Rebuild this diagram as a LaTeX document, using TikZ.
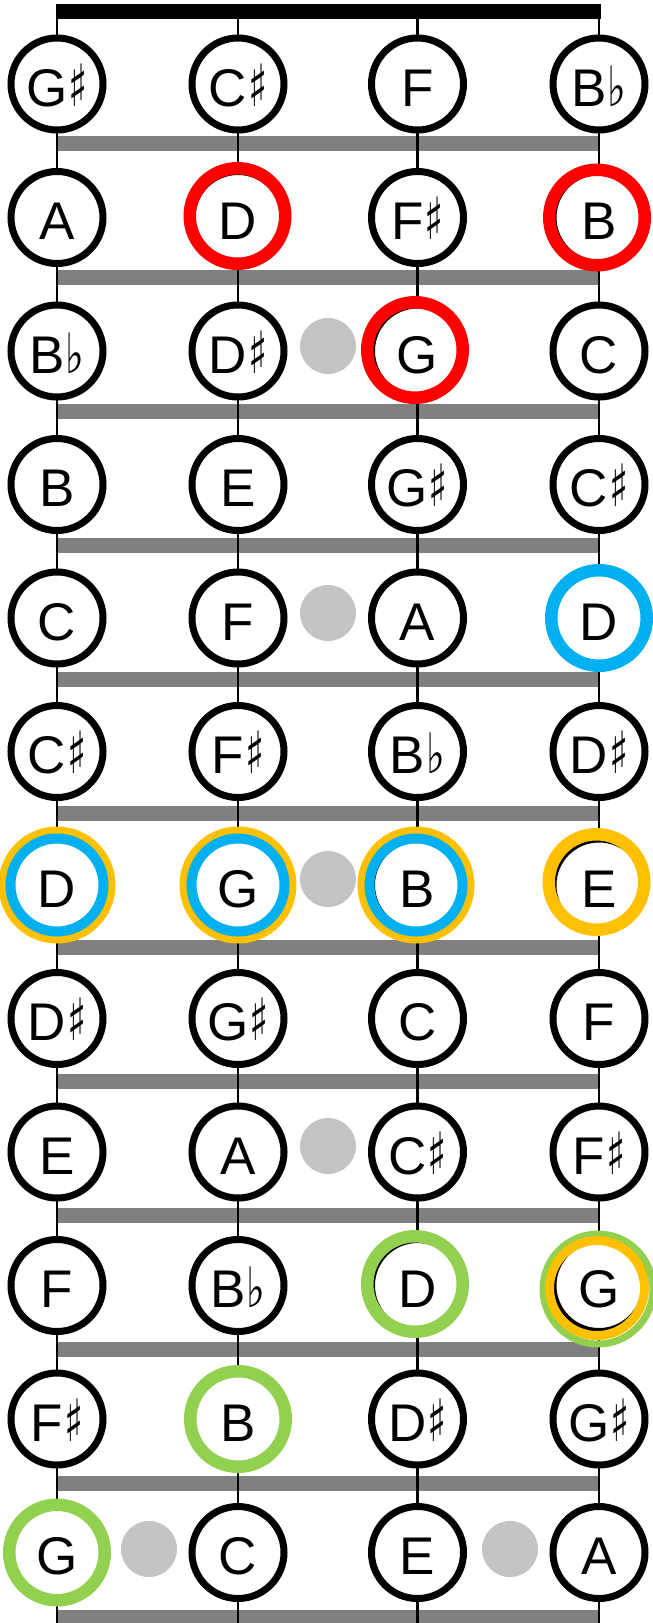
\documentclass[tikz,border=0pt]{standalone}
\usepackage{fontspec}
\setmainfont{Liberation Sans}
\newfontfamily\symfont{DejaVu Sans}
\newcommand{\shp}{\kern1pt{\symfont\scalebox{0.75}[1.1]{♯}}}
\newcommand{\flt}{\kern1pt{\symfont\scalebox{0.75}[1.05]{♭}}}
\definecolor{ored}{HTML}{FF0000}
\definecolor{oblue}{HTML}{00B0F0}
\definecolor{oorange}{HTML}{FFC000}
\definecolor{ogreen}{HTML}{92D050}
\definecolor{fretgray}{HTML}{808080}
\definecolor{dotgray}{HTML}{C4C4C4}
\begin{document}
\begin{tikzpicture}[x=1pt,y={(0pt,-1pt)},
  note/.style={circle, draw=black, line width=7pt, fill=white, minimum size=92pt,
    inner sep=0pt, text height=44pt, text depth=0pt, font=\fontsize{53}{60}\selectfont},
  ring/.style={circle, draw=#1, line width=12.5pt, minimum size=95.5pt, inner sep=0pt},
  outerring/.style={circle, draw=#1, line width=8pt, minimum size=109pt, inner sep=0pt},
  innerring/.style={circle, draw=#1, line width=10pt, minimum size=93pt, inner sep=0pt},
  fretdot/.style={circle, fill=dotgray, minimum size=56pt, inner sep=0pt},
  stringline/.style={line width=2.5pt, black},
  fretbar/.style={fill=fretgray}]
\path[use as bounding box, fill=white] (0,0) rectangle (653,1623);
% frets
\foreach \f in {0,...,11}{
  \fill[fretbar] (56.5,{136+134*\f}) rectangle (600,{151+134*\f});
}
% fret markers
\node[fretdot] (dot2) at (328,346) {};
\node[fretdot] (dot4) at (328,613) {};
\node[fretdot] (dot6) at (328,879) {};
\node[fretdot] (dot8) at (328,1146) {};
\node[fretdot] (dot11a) at (149,1549) {};
\node[fretdot] (dot11b) at (510,1549) {};
% strings
\coordinate (s1t) at (57,11);   \coordinate (s1b) at (57,1623);
\coordinate (s2t) at (238,11);  \coordinate (s2b) at (238,1623);
\coordinate (s3t) at (417.5,11);\coordinate (s3b) at (417.5,1623);
\coordinate (s4t) at (599,11);  \coordinate (s4b) at (599,1623);
\foreach \s in {1,...,4}{ \draw[stringline] (s\s t) -- (s\s b); }
% nut
\fill[black] (56,4) rectangle (601,19);
% notes
\foreach \r/\a/\b/\c/\d in {
  0/G\shp/C\shp/F/B\flt,
  1/A/D/F\shp/B,
  2/B\flt/D\shp/G/C,
  3/B/E/G\shp/C\shp,
  4/C/F/A/D,
  5/C\shp/F\shp/B\flt/D\shp,
  6/D/G/B/E,
  7/D\shp/G\shp/C/F,
  8/E/A/C\shp/F\shp,
  9/F/B\flt/D/G,
  10/F\shp/B/D\shp/G\shp,
  11/G/C/E/A}{
  \pgfmathsetmacro\yy{84+133.5*\r}
  \node[note] (n\r a) at (57,\yy) {\a};
  \node[note] (n\r b) at (238,\yy) {\b};
  \node[note] (n\r c) at (417.5,\yy) {\c};
  \node[note] (n\r d) at (599,\yy) {\d};
}
% highlight rings
\node[ring=ored] (r1b) at (237.5,216) {};
\node[ring=ored] (r1d) at (597,217.5) {};
\node[ring=ored] (r2c) at (415,350) {};
\node[ring=oblue] (r4d) at (599,618) {};
\node[outerring=oorange] (o6a) at (57,885) {};
\node[innerring=oblue] (b6a) at (57,885) {};
\node[outerring=oorange] (o6b) at (238,885) {};
\node[innerring=oblue] (b6b) at (238,885) {};
\node[outerring=oorange] (o6c) at (416,885) {};
\node[innerring=oblue] (b6c) at (416,885) {};
\node[ring=oorange] (r6d) at (596.5,882) {};
\node[ring=ogreen] (r9c) at (415,1284) {};
\node[circle, draw=ogreen, line width=7pt, minimum size=110pt, inner sep=0pt] (g9d) at (598,1289) {};
\node[circle, draw=oorange, line width=9pt, minimum size=95pt, inner sep=0pt] (o9d) at (597,1288) {};
\node[ring=ogreen] (r10b) at (238,1419) {};
\node[ring=ogreen] (r11a) at (57,1552.5) {};
\end{tikzpicture}
\end{document}
